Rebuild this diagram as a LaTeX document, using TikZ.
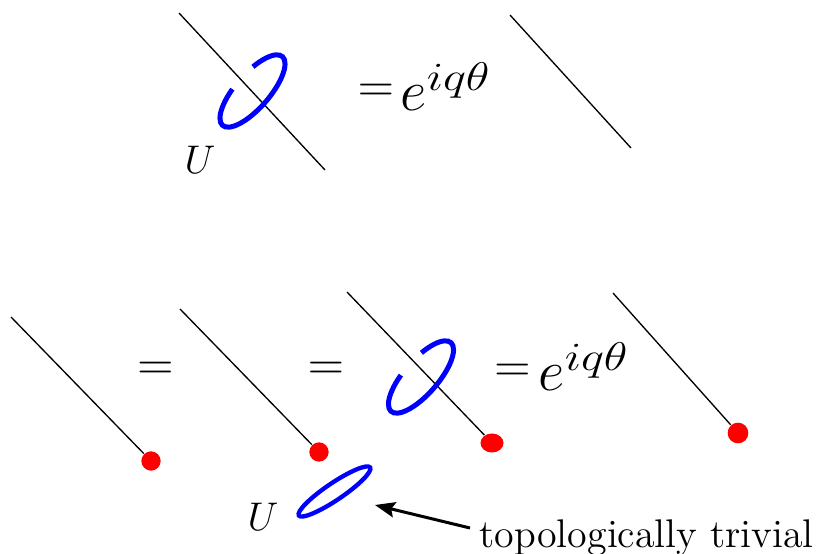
\documentclass[tikz,border=0pt]{standalone}
\usetikzlibrary{arrows.meta,shapes.geometric}
\newcommand{\phasefactor}{$e^{\scalebox{1.22}[1]{$\scriptstyle iq\theta$}}$}
\begin{document}
\begin{tikzpicture}[x=0.3pt,y=-0.3pt,
  wire/.style={line width=0.4pt},
  loop/.style={draw=blue, line width=1.5pt},
  trivloop/.style={draw=blue, line width=1.3pt},
  dot/.style={circle, fill=red, inner sep=0pt, minimum size=5.8pt},
  eqsign/.style={inner sep=0pt, font=\fontsize{14.7}{16}\selectfont},
  phase/.style={inner sep=0pt, anchor=base west, font=\fontsize{18.6}{20}\selectfont},
  lab/.style={inner sep=0pt, font=\fontsize{12}{14}\selectfont},
  pointer/.style={line width=0.9pt, -{Stealth[length=6pt,width=4.6pt,inset=1pt]}}]
\useasboundingbox (0,0) rectangle (816,554);

% ---------- top row ----------
\coordinate (t1s) at (179,13);
\coordinate (t1e) at (325,170);
\draw[wire] (t1s) -- (t1e);
\begin{scope}[shift={(252.5,91)}, rotate=49]
  \draw[loop] (-66:45.6 and 17) arc[start angle=-66, end angle=255, x radius=45.6, y radius=17];
\end{scope}
\node[lab] (u1) at (200,160) {$U$};
\node[eqsign] (eq1) at (376,93) {$=$};
\node[phase] (ph1) at (400,111) {\phasefactor};
\coordinate (t2s) at (510,15);
\coordinate (t2e) at (631,148);
\draw[wire] (t2s) -- (t2e);

% ---------- bottom row ----------
\coordinate (b1s) at (11,317);
\node[dot] (d1) at (151,461) {};
\draw[wire] (b1s) -- (d1);

\node[eqsign] (eq2) at (155.5,371) {$=$};

\coordinate (b2s) at (180,309);
\node[dot] (d2) at (319,452) {};
\draw[wire] (b2s) -- (d2);

\node[eqsign] (eq3) at (326,371) {$=$};

\coordinate (b3s) at (347,292);
\node[ellipse, fill=red, inner sep=0pt, minimum width=6.9pt, minimum height=5.7pt] (d3) at (492,443) {};
\draw[wire] (b3s) -- (d3);
\begin{scope}[shift={(421,377)}, rotate=49]
  \draw[loop] (-66:45.6 and 17) arc[start angle=-66, end angle=255, x radius=45.6, y radius=17];
\end{scope}

\node[eqsign] (eq4) at (512.5,373) {$=$};
\node[phase] (ph2) at (538,391) {\phasefactor};

\coordinate (b4s) at (613,293);
\node[dot, minimum size=6.2pt] (d4) at (738,433) {};
\draw[wire] (b4s) -- (d4);

% ---------- trivial loop ----------
\node[lab] (u2) at (263,517) {$U$};
\begin{scope}[shift={(334.5,491.5)}, rotate=34]
  \draw[trivloop] (0,0) ellipse[x radius=43, y radius=8.5];
\end{scope}
\node[lab, anchor=base west] (tt) at (479,547) {topologically trivial};
\coordinate (tail) at (470,528);
\coordinate (tip) at (375,505);
\draw[pointer] (tail) -- (tip);
\end{tikzpicture}
\end{document}
